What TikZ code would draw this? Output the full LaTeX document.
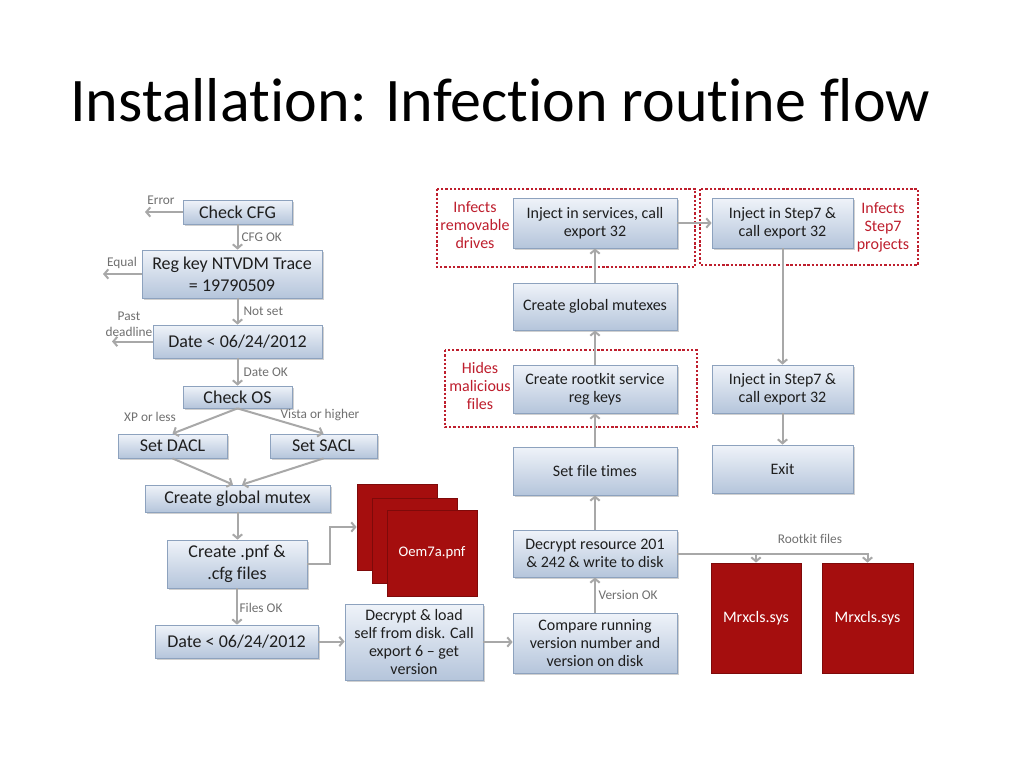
\documentclass[tikz,border=0pt]{standalone}
\usepackage{fontspec}
\setmainfont{Carlito}[Ligatures={TeX,NoCommon,NoContextual,NoRequired},RawFeature=-calt]
\usetikzlibrary{arrows.meta,shadows}
\definecolor{boxtop}{HTML}{EFF3F9}
\definecolor{boxbot}{HTML}{B5C5DB}
\definecolor{boxline}{HTML}{8DA2BE}
\definecolor{boxtext}{HTML}{1E1E1E}
\definecolor{flowgray}{HTML}{A8A8A8}
\definecolor{labelgray}{HTML}{707070}
\definecolor{filefill}{HTML}{A50E0E}
\definecolor{fileline}{HTML}{7E0A0A}
\definecolor{zonered}{HTML}{BE1E2D}
\newcommand\bigfont{\fontsize{13.5}{16.5}\selectfont}
\newcommand\smallfont{\fontsize{12}{13.5}\selectfont}
\newcommand\condfont{\fontsize{10}{12}\selectfont}
\tikzset{
  stepbox/.style={draw=boxline, line width=0.6pt, top color=boxtop, bottom color=boxbot,
    text=boxtext, align=center, inner sep=0pt, font=\bigfont,
    drop shadow={shadow xshift=1.2pt, shadow yshift=-1.2pt, opacity=0.3, fill=black!60}},
  narrow/.style={font=\smallfont},
  filebox/.style={draw=fileline, line width=0.6pt, fill=filefill, text=white, font=\smallfont, inner sep=0pt},
  wh/.style 2 args={minimum width=#1*0.75pt, minimum height=#2*0.75pt},
  flow/.style={draw=flowgray, line width=1.5pt, -{Straight Barb[length=3pt,width=7pt]}},
  cond/.style={text=labelgray, font=\condfont, inner sep=1pt, align=center},
  zone/.style={draw=zonered, line width=1.8pt, dash pattern=on 1.8pt off 1.4pt},
  zonetext/.style={text=zonered, font=\smallfont, align=center, inner sep=0pt},
}
\begin{document}
\begin{tikzpicture}[x=0.75pt,y=-0.75pt]
  \useasboundingbox (0,0) rectangle (1024,768);
  \fill[white] (0,0) rectangle (1024,768);
  \node[anchor=base west, inner sep=0pt, font=\fontsize{46.5}{50}\selectfont] (title) at (70,121)
    {Installa\kern0pt tion: Infection rou\kern0pt tine f\kern0pt low};

  % left column
  \node[stepbox, wh={109}{24}] (cfg) at (237.5,212) {Check CFG};
  \node[stepbox, wh={180}{48}] (reg) at (232,274) {Reg key NTVDM Trace\\= 19790509};
  \node[stepbox, wh={169}{33}] (date1) at (237.5,341.5) {Date < 06/24/2012};
  \node[stepbox, wh={109}{22}] (os) at (237.5,397) {Check OS};
  \node[stepbox, wh={109}{24}] (dacl) at (172.5,446) {Set DACL};
  \node[stepbox, wh={107}{24}] (sacl) at (323.5,446) {Set SACL};
  \node[stepbox, wh={185}{27}] (mutex) at (237.5,498.5) {Create global mutex};
  \node[stepbox, wh={140}{48}] (pnf) at (237,564) {Create .pnf \&\\.cfg f\kern0pt iles};
  \node[stepbox, wh={163}{33}] (date2) at (236.5,641.5) {Date < 06/24/2012};
  \node[stepbox, narrow, wh={138}{76}] (load) at (414,642) {Decrypt \& load\\self from disk. Call\\export 6 – get\\version};

  % dropped files
  \node[filebox, wh={80}{86}] (oemc) at (397,527) {};
  \node[filebox, wh={85}{85}] (oemb) at (414.5,540.5) {};
  \node[filebox, wh={90}{86}, font=\fontsize{11}{13}\selectfont] (oema) at (432,553) {Oem7a.pnf};

  % right columns
  \node[stepbox, narrow, wh={164}{60}] (cmp) at (595,643) {Compare running\\version number and\\version on disk};
  \node[stepbox, narrow, wh={164}{47}] (decres) at (595,553.5) {Decrypt resource 201\\\& 242 \& write to disk};
  \node[stepbox, narrow, wh={164}{48}] (ftimes) at (595,471) {Set f\kern0pt ile t\kern0pt imes};
  \node[stepbox, narrow, wh={164}{48}] (rkkeys) at (595,389) {Create rootkit service\\reg keys};
  \node[stepbox, narrow, wh={164}{47}] (gmutexes) at (595,306.5) {Create global mutexes};
  \node[stepbox, narrow, wh={164}{50}] (inject) at (595,223) {Inject in services, call\\export 32};
  \node[stepbox, narrow, wh={141}{50}] (step7a) at (782.5,223) {Inject in Step7 \&\\call export 32};
  \node[stepbox, narrow, wh={141}{48}] (step7b) at (782.5,389) {Inject in Step7 \&\\call export 32};
  \node[stepbox, narrow, wh={141}{48}] (exit) at (782.5,469) {Exit};
  \node[filebox, wh={90}{110}] (mrx1) at (756,618) {Mrxcls.sys};
  \node[filebox, wh={91}{110}] (mrx2) at (867.5,618) {Mrxcls.sys};

  % dotted zones
  \draw[zone] (437,189) rectangle (695,267);
  \draw[zone] (700,189) rectangle (918,265);
  \draw[zone] (445,350) rectangle (697,427);
  \node[zonetext] (zremov) at (475,225) {Infects\\removable\\drives};
  \node[zonetext] (zstep7) at (883,227) {Infects\\Step7\\projects};
  \node[zonetext] (zhides) at (480,386) {Hides\\malicious\\f\kern0pt iles};

  % labels
  \node[cond] (lerr) at (161,200) {Error};
  \node[cond] (lequal) at (122,263) {Equal};
  \node[cond] (lpast) at (129,324) {Past\\deadline};
  \node[cond, anchor=west] (lcfgok) at (240,237) {CFG OK};
  \node[cond, anchor=west] (lnotset) at (242,311) {Not set};
  \node[cond, anchor=west] (ldateok) at (242,372) {Date OK};
  \node[cond] (lxp) at (150,417) {XP or less};
  \node[cond] (lvista) at (320,415) {Vista or higher};
  \node[cond, anchor=west] (lfiles) at (238,608) {Files OK};
  \node[cond, anchor=west] (lversion) at (597,595) {Version OK};
  \node[cond] (lrootkit) at (810,539) {Rootkit f\kern0pt iles};

  \coordinate (errend) at (145,212);
  \coordinate (equalend) at (103,274);
  \coordinate (pastend) at (112,341.5);

  \begin{scope}[flow]
    \draw (cfg.west) -- (errend);
    \draw (reg.west) -- (equalend);
    \draw (date1.west) -- (pastend);
    \draw (cfg.south) -- (cfg.south |- reg.north);
    \draw (date1.north |- reg.south) -- (date1.north);
    \draw (date1.south) -- (os.north);
    \draw (os.south) -- (dacl.north);
    \draw (os.south) -- (sacl.north);
    \draw (dacl.south) -- ([xshift=-3.4pt]mutex.north);
    \draw (sacl.south) -- ([xshift=3.4pt]mutex.north);
    \draw (mutex.south) -- (mutex.south |- pnf.north);
    \draw (pnf.south) -- (pnf.south |- date2.north);
    \draw (pnf.east) -- ++(23,0) |- (oemc.west);
    \draw (date2.east) -- (date2.east -| load.west);
    \draw (load.east) -- (load.east -| cmp.west);
    \draw (cmp.north) -- (decres.south);
    \draw (decres.north) -- (ftimes.south);
    \draw (ftimes.north) -- (rkkeys.south);
    \draw (rkkeys.north) -- (gmutexes.south);
    \draw (gmutexes.north) -- (inject.south);
    \draw (inject.east) -- (step7a.west);
    \draw (step7a.south) -- (step7b.north);
    \draw (step7b.south) -- (exit.north);
    \draw (decres.east) -| (mrx2.north);
    \draw (decres.east -| mrx1.north) -- (mrx1.north);
  \end{scope}
\end{tikzpicture}
\end{document}
